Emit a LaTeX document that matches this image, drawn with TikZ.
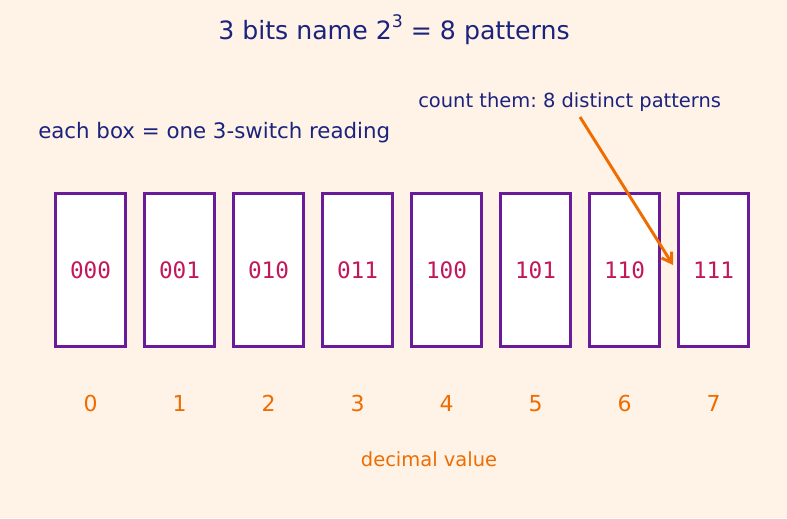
\documentclass[tikz,border=0pt]{standalone}
\usepackage{fontspec}
\setmainfont{DejaVu Sans}
\newfontfamily\monofont{DejaVu Sans Mono}
\usetikzlibrary{arrows.meta}
\frenchspacing
\definecolor{bgc}{HTML}{FFF2E6}
\definecolor{navy}{HTML}{1A237E}
\definecolor{boxpurple}{HTML}{6A1B9A}
\definecolor{bitpink}{HTML}{C2185B}
\definecolor{orng}{HTML}{EF6C00}
\begin{document}
\begin{tikzpicture}[x=0.75pt,y=-0.75pt,
  patbox/.style={draw=boxpurple,line width=2.4pt,fill=white,minimum width=52.5pt,minimum height=114.75pt,inner sep=0pt},
  bits/.style={text=bitpink,font=\monofont\fontsize{17}{20}\selectfont},
  decnum/.style={text=orng,font=\fontsize{16.5}{20}\selectfont,anchor=base},
  navytext/.style={text=navy,inner sep=0pt}]
\fill[bgc] (0,0) rectangle (787,518);
\useasboundingbox (0,0) rectangle (787,518);
\node[navytext,anchor=base,font=\fontsize{18.9}{22}\selectfont] (title) at (394,39) {3 bits name 2\raisebox{0.45em}{\fontsize{13}{15}\selectfont 3} = 8 patterns};
\node[navytext,anchor=base west,font=\fontsize{16}{19}\selectfont] (each) at (38,138) {each box = one 3-switch reading};
\node[navytext,anchor=base west,font=\fontsize{14.6}{17}\selectfont] (count) at (418,107) {count them: 8 distinct patterns};
\foreach \i/\b in {0/000,1/001,2/010,3/011,4/100,5/101,6/110,7/111}{
  \node[patbox] (box\i) at ({90.5+89*\i},270) {};
  \node[bits,anchor=base] (lab\i) at ({90.5+89*\i},278) {\b};
  \node[decnum] (num\i) at ({90.5+89*\i},411) {\i};
}
\node[text=orng,anchor=base,font=\fontsize{14.6}{18}\selectfont,inner sep=0pt] (dec) at (429,466) {decimal value};
\coordinate (arrS) at (580,117);
\coordinate (arrE) at (673,265);
\draw[orng,line width=2.2pt,-{Straight Barb[length=7pt,width=9pt]}] (arrS) -- (arrE);
\end{tikzpicture}
\end{document}
